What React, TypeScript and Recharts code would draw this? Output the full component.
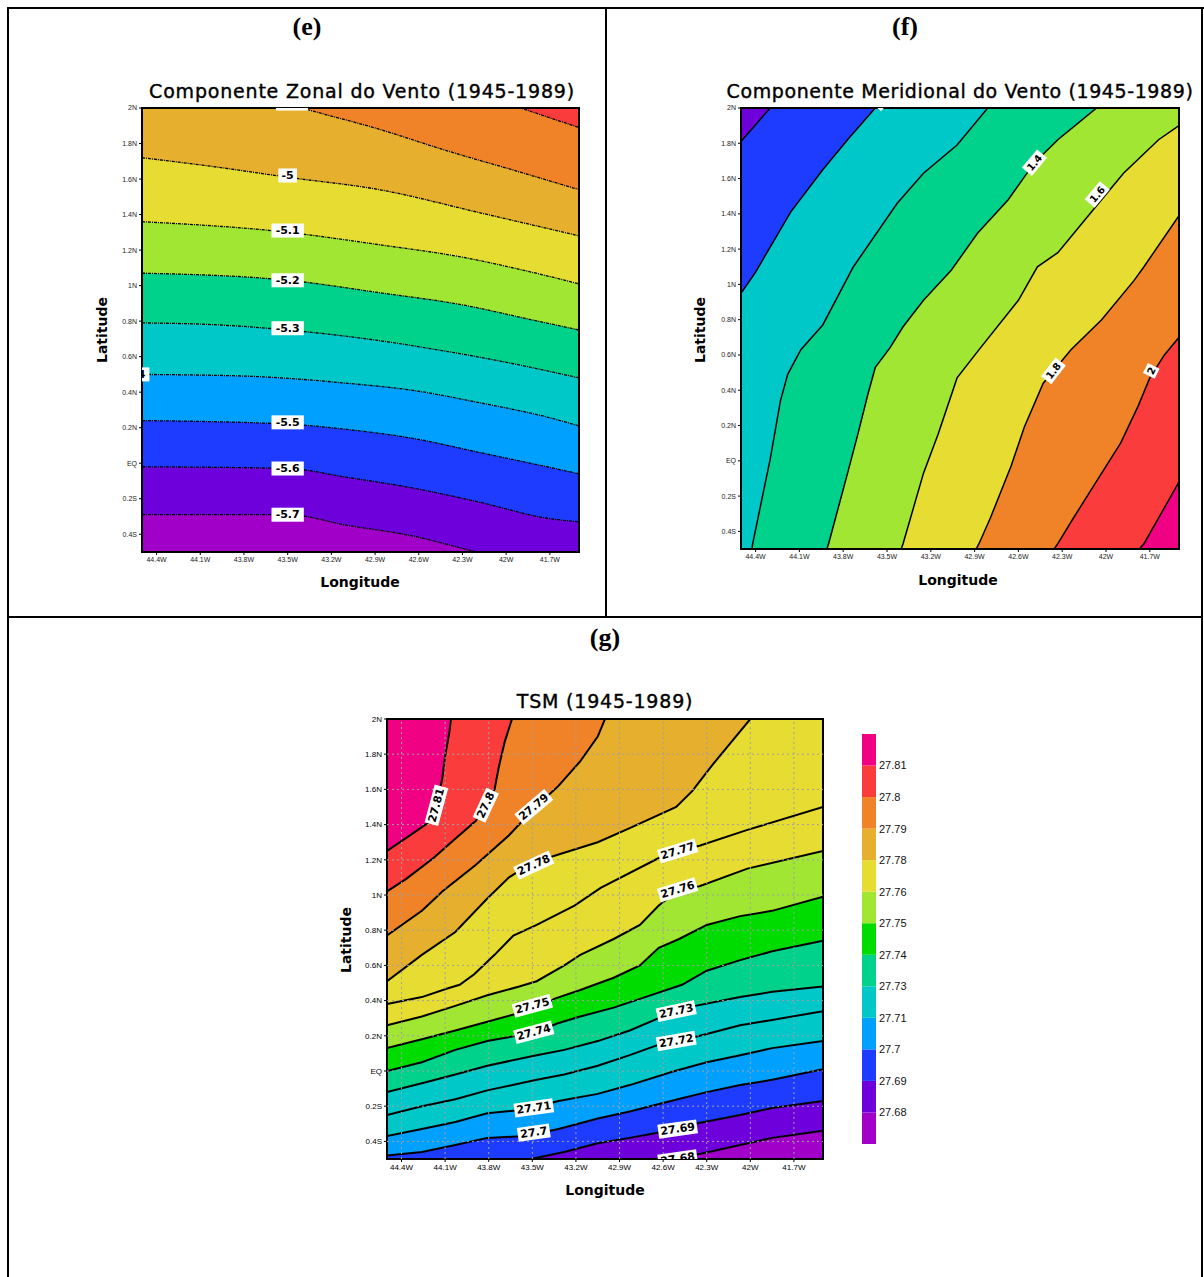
import React from "react";
import {
  ComposedChart, Area, XAxis, YAxis, ReferenceDot, ReferenceArea, ReferenceLine,
  BarChart, Bar,
} from "recharts";

type Pt = [number, number];

// ─── Axes ───
const LON_TICKS = [-44.4, -44.1, -43.8, -43.5, -43.2, -42.9, -42.6, -42.3, -42.0, -41.7];
const LON_LABELS = ["44.4W", "44.1W", "43.8W", "43.5W", "43.2W", "42.9W", "42.6W", "42.3W", "42W", "41.7W"];
const LAT_TICKS = [-0.4, -0.2, 0, 0.2, 0.4, 0.6, 0.8, 1.0, 1.2, 1.4, 1.6, 1.8, 2.0];
const LAT_LABELS = ["0.4S", "0.2S", "EQ", "0.2N", "0.4N", "0.6N", "0.8N", "1N", "1.2N", "1.4N", "1.6N", "1.8N", "2N"];
const LON_DOMAIN: Pt = [-44.5, -41.5];
const LAT_DOMAIN: Pt = [-0.5, 2.0];

const C = {
  magenta: "#f00082", red: "#fa3c3c", orange: "#f08228", gold: "#e6af2d",
  yellow: "#e6dc32", lime: "#a0e632", green: "#00dc00", teal: "#00d28c",
  cyan: "#00c8c8", sky: "#00a0ff", blue: "#1e3cff", violet: "#6e00dc", purple: "#a000c8",
};

// ─── (e) Componente zonal: contour lines [lon, lat], top to bottom ───
const E_M48: Pt[] = [[-44.5, 2.8], [-41.9, 2.0], [-41.5, 1.89]];
const E_M49: Pt[] = [[-44.5, 2.3], [-43.4, 2.0], [-42.87, 1.88], [-42.41, 1.76], [-41.95, 1.65], [-41.5, 1.54]];
const E_M50: Pt[] = [[-44.5, 1.72], [-44.01, 1.67], [-43.5, 1.61], [-42.87, 1.54], [-42.18, 1.41], [-41.5, 1.28]];
const E_M51: Pt[] = [[-44.5, 1.36], [-43.5, 1.3], [-42.87, 1.23], [-42.3, 1.16], [-41.9, 1.09], [-41.5, 1.01]];
const E_M52: Pt[] = [[-44.5, 1.07], [-43.5, 1.03], [-42.87, 0.96], [-42.29, 0.89], [-41.84, 0.81], [-41.5, 0.75]];
const E_M53: Pt[] = [[-44.5, 0.79], [-44.01, 0.78], [-43.5, 0.75], [-42.87, 0.69], [-42.41, 0.63], [-41.95, 0.56], [-41.5, 0.48]];
const E_M54: Pt[] = [[-44.5, 0.5], [-43.78, 0.49], [-43.09, 0.45], [-42.64, 0.41], [-42.18, 0.34], [-41.72, 0.26], [-41.5, 0.21]];
const E_M55: Pt[] = [[-44.5, 0.24], [-43.5, 0.22], [-43.09, 0.19], [-42.64, 0.14], [-42.18, 0.06], [-41.72, -0.02], [-41.5, -0.06]];
const E_M56: Pt[] = [[-44.5, -0.02], [-43.5, -0.03], [-43.09, -0.08], [-42.64, -0.14], [-42.18, -0.22], [-41.72, -0.31], [-41.5, -0.33]];
const E_M57: Pt[] = [[-44.5, -0.29], [-43.5, -0.29], [-43.09, -0.35], [-42.64, -0.41], [-42.25, -0.49], [-41.5, -0.62]];
const E_LABELS = [
  { lon: -43.47, lat: 2.025, text: "-4.9" }, { lon: -43.5, lat: 1.62, text: "-5" },
  { lon: -43.5, lat: 1.31, text: "-5.1" }, { lon: -43.5, lat: 1.03, text: "-5.2" },
  { lon: -43.5, lat: 0.76, text: "-5.3" }, { lon: -44.56, lat: 0.5, text: "-5.4" },
  { lon: -43.5, lat: 0.23, text: "-5.5" }, { lon: -43.5, lat: -0.03, text: "-5.6" },
  { lon: -43.5, lat: -0.29, text: "-5.7" },
];

// ─── (f) Componente meridional ───
const F_L0: Pt[] = [[-44.5, 1.81], [-44.29, 2.01], [-44.0, 2.8], [-41.5, 2.8]];
const F_L1: Pt[] = [[-44.5, 0.95], [-44.4, 1.07], [-44.16, 1.41], [-43.94, 1.65], [-43.77, 1.82], [-43.57, 2.01], [-43.3, 2.8], [-41.5, 2.8]];
const F_L2: Pt[] = [[-44.5, -0.9], [-44.42, -0.47], [-44.3, 0.01], [-44.23, 0.34], [-44.18, 0.49], [-44.09, 0.63], [-43.94, 0.77], [-43.73, 1.1], [-43.43, 1.46], [-43.25, 1.63], [-43.02, 1.79], [-42.8, 2.01], [-42.5, 2.8], [-41.5, 2.8]];
const F_L3: Pt[] = [[-44.5, -2.0], [-43.9, -0.47], [-43.77, -0.07], [-43.7, 0.15], [-43.63, 0.38], [-43.58, 0.53], [-43.48, 0.64], [-43.39, 0.76], [-43.25, 0.91], [-43.06, 1.08], [-42.88, 1.29], [-42.67, 1.48], [-42.49, 1.69], [-42.33, 1.82], [-42.05, 2.01], [-41.8, 2.8], [-41.5, 2.8]];
const F_L4: Pt[] = [[-44.5, -3], [-43.39, -0.47], [-43.25, -0.07], [-43.15, 0.15], [-43.02, 0.47], [-42.86, 0.64], [-42.6, 0.91], [-42.47, 1.1], [-42.33, 1.18], [-42.1, 1.41], [-41.88, 1.63], [-41.64, 1.82], [-41.5, 1.9]];
const F_L5: Pt[] = [[-44.5, -3], [-42.87, -0.47], [-42.79, -0.32], [-42.65, -0.03], [-42.56, 0.19], [-42.43, 0.44], [-42.24, 0.63], [-42.03, 0.8], [-41.81, 1.02], [-41.74, 1.1], [-41.5, 1.39]];
const F_L6: Pt[] = [[-44.5, -3], [-42.33, -0.47], [-42.22, -0.32], [-42.06, -0.11], [-41.9, 0.1], [-41.78, 0.31], [-41.7, 0.47], [-41.6, 0.6], [-41.5, 0.7]];
const F_L7: Pt[] = [[-44.5, -3], [-41.74, -0.47], [-41.5, -0.12]];
const F_LABELS = [
  { lon: -43.55, lat: 2.03, text: "1", angle: -50 },
  { lon: -42.49, lat: 1.69, text: "1.4", angle: -50 }, { lon: -42.06, lat: 1.51, text: "1.6", angle: -50 },
  { lon: -42.36, lat: 0.51, text: "1.8", angle: -52 }, { lon: -41.69, lat: 0.51, text: "2", angle: -64 },
];

// ─── (g) TSM ───
const G_81: Pt[] = [[-44.5, 1.25], [-44.34, 1.34], [-44.2, 1.42], [-44.16, 1.51], [-44.12, 1.66], [-44.1, 1.79], [-44.07, 1.93], [-44.06, 2.0], [-44.0, 2.5], [-41.5, 2.5]];
const G_80: Pt[] = [[-44.5, 1.02], [-44.37, 1.09], [-44.18, 1.21], [-44.03, 1.32], [-43.89, 1.42], [-43.82, 1.51], [-43.76, 1.6], [-43.73, 1.73], [-43.69, 1.87], [-43.64, 2.0], [-43.55, 2.5], [-41.5, 2.5]];
const G_79: Pt[] = [[-44.5, 0.77], [-44.26, 0.91], [-44.17, 0.98], [-44.12, 1.02], [-43.89, 1.17], [-43.66, 1.34], [-43.49, 1.49], [-43.32, 1.62], [-43.17, 1.76], [-43.05, 1.9], [-43.0, 2.0], [-42.9, 2.5], [-41.5, 2.5]];
const G_78: Pt[] = [[-44.5, 0.51], [-44.26, 0.66], [-44.03, 0.79], [-43.81, 0.98], [-43.66, 1.1], [-43.51, 1.18], [-43.32, 1.23], [-43.05, 1.3], [-42.83, 1.38], [-42.51, 1.5], [-42.4, 1.59], [-42.27, 1.73], [-42.13, 1.87], [-42.0, 2.0], [-41.9, 2.5], [-41.5, 2.5]];
const G_77: Pt[] = [[-44.5, 0.38], [-44.26, 0.42], [-44.08, 0.47], [-44.0, 0.49], [-43.9, 0.55], [-43.76, 0.66], [-43.63, 0.77], [-43.47, 0.83], [-43.21, 0.94], [-43.03, 1.04], [-42.63, 1.21], [-42.5, 1.25], [-42.35, 1.28], [-42.02, 1.37], [-41.5, 1.5]];
const G_76: Pt[] = [[-44.5, 0.26], [-44.26, 0.31], [-44.03, 0.37], [-43.81, 0.43], [-43.59, 0.48], [-43.47, 0.51], [-43.28, 0.6], [-43.17, 0.66], [-42.94, 0.75], [-42.76, 0.83], [-42.63, 0.94], [-42.49, 1.03], [-42.35, 1.05], [-42.02, 1.15], [-41.5, 1.25]];
const G_75: Pt[] = [[-44.5, 0.13], [-44.26, 0.18], [-44.03, 0.23], [-43.81, 0.28], [-43.59, 0.33], [-43.44, 0.36], [-43.35, 0.41], [-43.17, 0.46], [-42.94, 0.53], [-42.76, 0.6], [-42.63, 0.7], [-42.49, 0.75], [-42.3, 0.83], [-42.07, 0.88], [-41.85, 0.91], [-41.5, 0.99]];
const G_74: Pt[] = [[-44.5, 0.0], [-44.26, 0.05], [-44.03, 0.12], [-43.81, 0.17], [-43.61, 0.2], [-43.44, 0.23], [-43.33, 0.27], [-43.17, 0.31], [-42.94, 0.36], [-42.76, 0.41], [-42.47, 0.49], [-42.3, 0.57], [-42.07, 0.63], [-41.85, 0.68], [-41.5, 0.74]];
const G_73: Pt[] = [[-44.5, -0.12], [-44.26, -0.07], [-44.03, -0.02], [-43.81, 0.03], [-43.47, 0.09], [-43.28, 0.12], [-43.05, 0.17], [-42.83, 0.23], [-42.63, 0.3], [-42.44, 0.36], [-42.07, 0.42], [-41.85, 0.45], [-41.5, 0.48]];
const G_72: Pt[] = [[-44.5, -0.25], [-44.26, -0.2], [-44.03, -0.16], [-43.81, -0.11], [-43.47, -0.05], [-43.28, -0.02], [-43.05, 0.03], [-42.83, 0.09], [-42.63, 0.15], [-42.44, 0.18], [-42.07, 0.26], [-41.85, 0.29], [-41.5, 0.34]];
const G_71: Pt[] = [[-44.5, -0.37], [-44.26, -0.33], [-44.03, -0.29], [-43.81, -0.24], [-43.56, -0.22], [-43.32, -0.17], [-43.05, -0.13], [-42.83, -0.08], [-42.52, 0.0], [-42.3, 0.05], [-42.07, 0.09], [-41.85, 0.13], [-41.5, 0.17]];
const G_70: Pt[] = [[-44.5, -0.48], [-44.26, -0.46], [-44.03, -0.42], [-43.81, -0.38], [-43.56, -0.37], [-43.32, -0.33], [-43.05, -0.27], [-42.83, -0.23], [-42.5, -0.16], [-42.3, -0.12], [-42.07, -0.08], [-41.85, -0.05], [-41.5, 0.01]];
const G_69: Pt[] = [[-44.5, -0.75], [-43.51, -0.5], [-43.28, -0.46], [-43.05, -0.41], [-42.83, -0.38], [-42.63, -0.35], [-42.44, -0.31], [-42.07, -0.25], [-41.85, -0.21], [-41.5, -0.17]];
const G_68: Pt[] = [[-44.5, -0.9], [-42.64, -0.51], [-42.34, -0.47], [-42.07, -0.42], [-41.85, -0.38], [-41.5, -0.34]];
const G_LABELS = [
  { lon: -44.16, lat: 1.51, text: "27.81", angle: -75 }, { lon: -43.82, lat: 1.51, text: "27.8", angle: -65 },
  { lon: -43.49, lat: 1.5, text: "27.79", angle: -40 }, { lon: -43.49, lat: 1.17, text: "27.78", angle: -25 },
  { lon: -42.5, lat: 1.25, text: "27.77", angle: -17 }, { lon: -42.5, lat: 1.03, text: "27.76", angle: -17 },
  { lon: -43.5, lat: 0.37, text: "27.75", angle: -15 }, { lon: -43.49, lat: 0.22, text: "27.74", angle: -15 },
  { lon: -42.51, lat: 0.34, text: "27.73", angle: -12 }, { lon: -42.51, lat: 0.17, text: "27.72", angle: -10 },
  { lon: -43.49, lat: -0.21, text: "27.71", angle: -8 }, { lon: -43.49, lat: -0.35, text: "27.7", angle: -8 },
  { lon: -42.5, lat: -0.33, text: "27.69", angle: -8 }, { lon: -42.5, lat: -0.5, text: "27.68", angle: -8 },
];
const G_BAR_COLORS = [C.purple, C.violet, C.blue, C.sky, C.cyan, C.teal, C.green, C.lime, C.yellow, C.gold, C.orange, C.red, C.magenta];
const G_BAR_LABELS = ["27.68", "27.69", "27.7", "27.71", "27.73", "27.74", "27.75", "27.76", "27.78", "27.79", "27.8", "27.81"];

const FULL_PLOT: Pt[] = [[LON_DOMAIN[0], LAT_DOMAIN[1]], [LON_DOMAIN[1], LAT_DOMAIN[1]]];

const fmtFrom = (ticks: number[], labels: string[]) => (v: number) => {
  const i = ticks.findIndex((t) => Math.abs(t - v) < 1e-6);
  return i >= 0 ? labels[i] : "";
};
const lonFmt = fmtFrom(LON_TICKS, LON_LABELS);
const latFmt = fmtFrom(LAT_TICKS, LAT_LABELS);
const toRows = (pts: Pt[]) => pts.map(([lon, lat]) => ({ lon, lat }));

// white-boxed contour label, clipped to the plot rectangle
function ContourLabel(props: any) {
  const { cx, cy, text, angle = 0, size = 11, clip, id } = props;
  if (cx == null || cy == null) return null;
  const w = text.length * size * 0.62 + 5;
  const h = size + 3;
  return (
    <g>
      <defs>
        <clipPath id={id}><rect x={clip.x} y={clip.y} width={clip.w} height={clip.h} /></clipPath>
      </defs>
      <g clipPath={`url(#${id})`}>
        <g transform={`translate(${cx},${cy}) rotate(${angle})`}>
          <rect x={-w / 2} y={-h / 2} width={w} height={h} fill="#fff" />
          <text x={0} y={0} textAnchor="middle" dominantBaseline="central" fontFamily="'DejaVu Sans', sans-serif"
            fontWeight={700} fontSize={size} fill="#000">{text}</text>
        </g>
      </g>
    </g>
  );
}

interface Band { pts: Pt[]; fill: string }
interface PanelProps {
  id: string; left: number; top: number; width: number; height: number;
  topFill: string; bands: Band[];
  labels: { lon: number; lat: number; text: string; angle?: number }[];
  dash?: string; lineWidth: number; curve: "linear" | "monotone";
  grid?: boolean; tickFont: number; tickColor: string; labelSize: number;
}

function ContourPanel(p: PanelProps) {
  const tick = { fontSize: p.tickFont, fill: p.tickColor, fontFamily: "'Liberation Sans', Arial, sans-serif" };
  const margin = { top: 8, right: 10, bottom: 0, left: 0 };
  const clip = { x: 62, y: margin.top, w: p.width - 62 - margin.right, h: p.height - margin.top - 20 };
  return (
    <div style={{ position: "absolute", left: p.left, top: p.top }}>
      <ComposedChart width={p.width} height={p.height} margin={margin}>
        <XAxis type="number" dataKey="lon" domain={LON_DOMAIN} allowDataOverflow ticks={LON_TICKS}
          tickFormatter={lonFmt} interval={0} height={20} tick={tick} tickSize={3} tickMargin={2}
          axisLine={false} tickLine={{ stroke: "#000" }} />
        <YAxis type="number" dataKey="lat" domain={LAT_DOMAIN} allowDataOverflow ticks={LAT_TICKS}
          tickFormatter={latFmt} interval={0} width={62} tick={tick} tickSize={3} tickMargin={2}
          axisLine={false} tickLine={{ stroke: "#000" }} />
        <Area data={toRows(FULL_PLOT)} dataKey="lat" type="linear" baseValue={LAT_DOMAIN[0]}
          fill={p.topFill} fillOpacity={1} stroke="none" isAnimationActive={false} dot={false} activeDot={false} />
        {p.bands.map((b, i) => (
          <Area key={i} data={toRows(b.pts)} dataKey="lat" type={p.curve} baseValue={LAT_DOMAIN[0]}
            fill={b.fill} fillOpacity={1} stroke="#000" strokeWidth={p.lineWidth}
            strokeDasharray={p.dash} isAnimationActive={false} dot={false} activeDot={false} />
        ))}
        {p.grid && LON_TICKS.map((t) => (
          <ReferenceLine key={`gx${t}`} x={t} stroke="#a0a0a0" strokeDasharray="2 3" strokeWidth={1} />
        ))}
        {p.grid && LAT_TICKS.filter((t) => t < LAT_DOMAIN[1]).map((t) => (
          <ReferenceLine key={`gy${t}`} y={t} stroke="#a0a0a0" strokeDasharray="2 3" strokeWidth={1} />
        ))}
        {p.labels.map((l, i) => (
          <ReferenceDot key={`l${i}`} x={l.lon} y={l.lat} r={0} ifOverflow="visible"
            shape={(sp: any) => (
              <ContourLabel cx={sp.cx} cy={sp.cy} text={l.text} angle={l.angle || 0}
                size={p.labelSize} clip={clip} id={`${p.id}-clip-${i}`} />
            )} />
        ))}
        <ReferenceArea x1={LON_DOMAIN[0]} x2={LON_DOMAIN[1]} y1={LAT_DOMAIN[0]} y2={LAT_DOMAIN[1]}
          fill="none" fillOpacity={0} stroke="#000" strokeWidth={2} ifOverflow="visible" />
      </ComposedChart>
    </div>
  );
}

function ColorBar() {
  const row: Record<string, number> = {};
  G_BAR_COLORS.forEach((_, i) => { row[`b${i}`] = 1; });
  const ticks = G_BAR_LABELS.map((_, i) => i + 1);
  return (
    <div style={{ position: "absolute", left: 862, top: 734 }}>
      <BarChart width={64} height={410} data={[row]} margin={{ top: 0, right: 0, bottom: 0, left: 0 }} barCategoryGap={0}>
        <XAxis type="category" hide />
        <YAxis type="number" orientation="right" domain={[0, G_BAR_COLORS.length]} ticks={ticks}
          tickFormatter={(v: number) => G_BAR_LABELS[v - 1]} interval={0} width={50}
          axisLine={false} tickLine={false} tickSize={2} tickMargin={1}
          tick={{ fontSize: 11, fill: "#111", fontFamily: "'Liberation Sans', Arial, sans-serif" }} />
        {G_BAR_COLORS.map((c, i) => (
          <Bar key={i} dataKey={`b${i}`} stackId="s" fill={c} isAnimationActive={false} />
        ))}
      </BarChart>
    </div>
  );
}

function Txt({ x, y, size, bold, serif, rotate = 0, spacing = 0, stroke = 0, children }: any) {
  return (
    <div style={{
      position: "absolute", left: x, top: y, transform: `translate(-50%,-50%) rotate(${rotate}deg)`,
      fontSize: size, fontWeight: bold ? 700 : 400, whiteSpace: "nowrap", letterSpacing: spacing,
      fontFamily: serif ? "'Liberation Serif', 'Times New Roman', serif" : "'DejaVu Sans', sans-serif",
      color: "#000", lineHeight: 1, WebkitTextStroke: stroke ? `${stroke}px #000` : undefined,
    }}>{children}</div>
  );
}

const Rule = ({ x, y, w, h }: any) => (
  <div style={{ position: "absolute", left: x, top: y, width: w, height: h, background: "#000" }} />
);

export default function App() {
  const eBands: Band[] = [
    { pts: E_M48, fill: C.orange }, { pts: E_M49, fill: C.gold }, { pts: E_M50, fill: C.yellow },
    { pts: E_M51, fill: C.lime }, { pts: E_M52, fill: C.teal }, { pts: E_M53, fill: C.cyan },
    { pts: E_M54, fill: C.sky }, { pts: E_M55, fill: C.blue }, { pts: E_M56, fill: C.violet },
    { pts: E_M57, fill: C.purple },
  ];
  const fBands: Band[] = [
    { pts: F_L0, fill: C.blue }, { pts: F_L1, fill: C.cyan }, { pts: F_L2, fill: C.teal },
    { pts: F_L3, fill: C.lime }, { pts: F_L4, fill: C.yellow }, { pts: F_L5, fill: C.orange },
    { pts: F_L6, fill: C.red }, { pts: F_L7, fill: C.magenta },
  ];
  const gBands: Band[] = [
    { pts: G_81, fill: C.red }, { pts: G_80, fill: C.orange }, { pts: G_79, fill: C.gold },
    { pts: G_78, fill: C.yellow }, { pts: G_77, fill: C.yellow }, { pts: G_76, fill: C.lime },
    { pts: G_75, fill: C.green }, { pts: G_74, fill: C.teal }, { pts: G_73, fill: C.cyan },
    { pts: G_72, fill: C.cyan }, { pts: G_71, fill: C.sky }, { pts: G_70, fill: C.blue },
    { pts: G_69, fill: C.violet }, { pts: G_68, fill: C.purple },
  ];

  return (
    <div style={{ position: "absolute", left: 0, top: 0, width: 1204, height: 1277, background: "#fff", overflow: "hidden" }}>
      {/* table rules */}
      <Rule x={7} y={7} w={1197} h={2} />
      <Rule x={7} y={7} w={2} h={1270} />
      <Rule x={1201} y={7} w={2} h={1270} />
      <Rule x={605} y={7} w={2} h={611} />
      <Rule x={7} y={616} w={1196} h={2} />

      <Txt x={307} y={27} size={26} bold serif>(e)</Txt>
      <Txt x={905} y={27} size={26} bold serif>(f)</Txt>
      <Txt x={605} y={638} size={26} bold serif>(g)</Txt>

      {/* (e) */}
      <Txt x={362} y={91} size={19} spacing={0.8} stroke={0.4}>Componente Zonal do Vento (1945-1989)</Txt>
      <ContourPanel id="e" left={80} top={100} width={509} height={472} topFill={C.red} bands={eBands}
        labels={E_LABELS} dash="3 1 1 1" lineWidth={1.3} curve="monotone" tickFont={7} tickColor="#222" labelSize={11} />
      <Txt x={102} y={330} size={14} bold rotate={-90}>Latitude</Txt>
      <Txt x={360} y={582} size={14} bold>Longitude</Txt>

      {/* (f) */}
      <Txt x={960} y={91} size={19} spacing={0.6} stroke={0.4}>Componente Meridional do Vento (1945-1989)</Txt>
      <ContourPanel id="f" left={679} top={100} width={510} height={469} topFill={C.violet} bands={fBands}
        labels={F_LABELS} lineWidth={1.5} curve="linear" tickFont={7} tickColor="#222" labelSize={10} />
      <Txt x={700} y={330} size={14} bold rotate={-90}>Latitude</Txt>
      <Txt x={958} y={580} size={14} bold>Longitude</Txt>

      {/* (g) */}
      <Txt x={605} y={701} size={19} spacing={0.8} stroke={0.4}>TSM (1945-1989)</Txt>
      <ContourPanel id="g" left={325} top={711} width={508} height={468} topFill={C.magenta} bands={gBands}
        labels={G_LABELS} lineWidth={2} curve="linear" grid tickFont={8} tickColor="#000" labelSize={11} />
      <Txt x={346} y={940} size={14} bold rotate={-90}>Latitude</Txt>
      <Txt x={605} y={1190} size={14} bold>Longitude</Txt>
      <ColorBar />
    </div>
  );
}
